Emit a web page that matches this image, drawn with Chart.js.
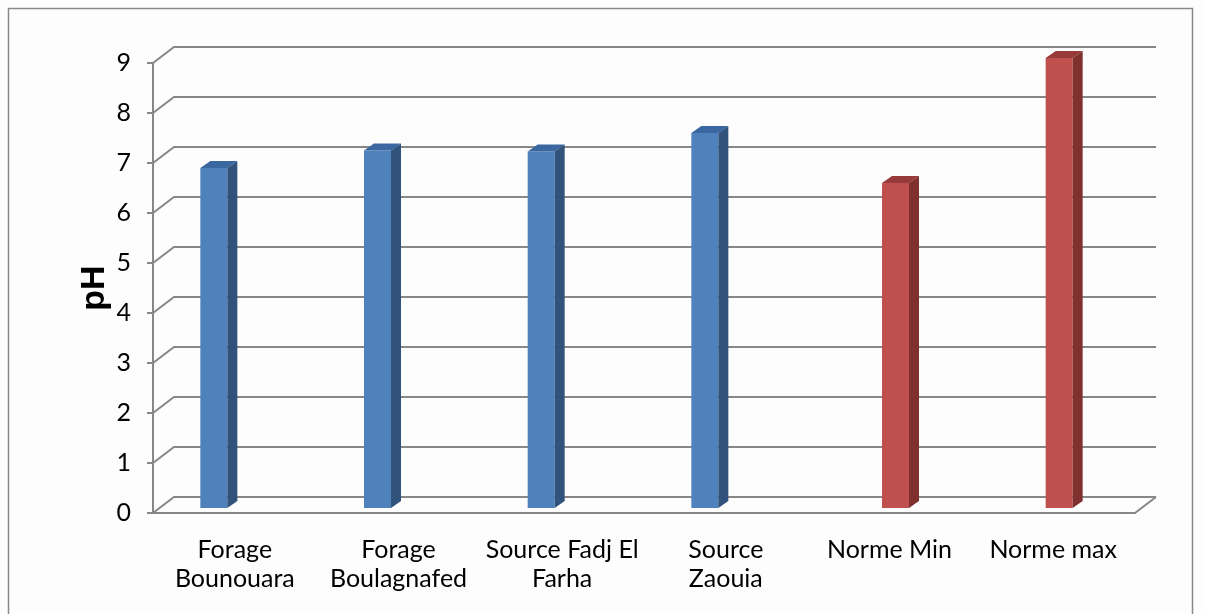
<!DOCTYPE html>
<html>
<head>
<meta charset="utf-8">
<title>pH des eaux</title>
<script src="https://cdn.jsdelivr.net/npm/chart.js@4/dist/chart.umd.min.js"></script>
<style>
  html, body { margin: 0; padding: 0; background: #ffffff; }
  #wrap { width: 1206px; height: 614px; }
</style>
</head>
<body>
<div id="wrap"><canvas id="myCanvas" width="1206" height="614"></canvas></div>
<script>
// categories and pH values
const categories = [
  ['Forage', 'Bounouara'],
  ['Forage', 'Boulagnafed'],
  ['Source Fadj El', 'Farha'],
  ['Source', 'Zaouia'],
  'Norme Min',
  'Norme max'
];
const mesures = [6.8, 7.15, 7.13, 7.5, null, null];  // blue bars
const normes = [null, null, null, null, 6.5, 9];     // red bars
const yTicks = [0, 1, 2, 3, 4, 5, 6, 7, 8, 9];

// 3D look: depth of the wall and of each bar
const wallDx = 21, wallDy = -16;
const barDx = 10, barDy = -7;
const barShiftX = -7.5, barShiftY = -5;
const gridColor = '#878787';

// faces of the 3D bars: [front, top, side]
const faceColors = [
  ['#4f81bd', '#3b67a0', '#31527b'],
  ['#c0504d', '#963b39', '#7f3130']
];

// back wall, floor and front axis
const wallPlugin = {
  id: 'wall',
  beforeDraw(chart) {
    const ctx = chart.ctx;
    const y = chart.scales.y;
    const area = chart.chartArea;
    ctx.save();
    ctx.fillStyle = '#fdfdfd';
    ctx.fillRect(0, 0, chart.width, chart.height);
    ctx.strokeStyle = '#8a8a8a';
    ctx.lineWidth = 1.5;
    ctx.strokeRect(8.5, 8.5, 1184, 640);

    ctx.strokeStyle = gridColor;
    ctx.lineWidth = 2;
    ctx.beginPath();
    yTicks.forEach(function (v) {
      const py = y.getPixelForValue(v);
      // diagonal from the front axis to the back wall
      ctx.moveTo(area.left, py);
      ctx.lineTo(area.left + wallDx, py + wallDy);
      // back wall line
      ctx.lineTo(area.right + wallDx, py + wallDy);
      // small tick on the front axis
      ctx.moveTo(area.left - 6, py);
      ctx.lineTo(area.left, py);
    });
    // front axis
    ctx.moveTo(area.left, y.getPixelForValue(9));
    ctx.lineTo(area.left, y.getPixelForValue(0));
    // floor front edge and right edge
    const p0 = y.getPixelForValue(0);
    ctx.moveTo(area.left, p0);
    ctx.lineTo(area.right, p0);
    ctx.lineTo(area.right + wallDx, p0 + wallDy);
    ctx.stroke();
    ctx.restore();
  },
  beforeDatasetsDraw(chart) {
    chart.ctx.save();
    chart.ctx.translate(barShiftX, barShiftY);
  },
  afterDatasetsDraw(chart) {
    const ctx = chart.ctx;
    chart.data.datasets.forEach(function (ds, di) {
      const meta = chart.getDatasetMeta(di);
      meta.data.forEach(function (bar, i) {
        if (ds.data[i] == null) return;
        const x1 = bar.x - bar.width / 2, x2 = bar.x + bar.width / 2;
        const top = bar.y, base = bar.base;
        // top face
        ctx.fillStyle = faceColors[di][1];
        ctx.beginPath();
        ctx.moveTo(x1, top);
        ctx.lineTo(x1 + barDx, top + barDy);
        ctx.lineTo(x2 + barDx, top + barDy);
        ctx.lineTo(x2, top);
        ctx.closePath();
        ctx.fill();
        // side face
        ctx.fillStyle = faceColors[di][2];
        ctx.beginPath();
        ctx.moveTo(x2, top);
        ctx.lineTo(x2 + barDx, top + barDy);
        ctx.lineTo(x2 + barDx, base + barDy);
        ctx.lineTo(x2, base);
        ctx.closePath();
        ctx.fill();
      });
    });
    ctx.restore();
  }
};

const labelFont = { family: 'Lato', size: 25, lineHeight: 1.16 };

var ctx = document.getElementById('myCanvas').getContext('2d');
var myChart = new Chart(ctx, {
  type: 'bar',
  data: {
    labels: categories,
    datasets: [{
      label: 'pH',
      data: mesures,
      backgroundColor: faceColors[0][0],
      borderWidth: 0,
      categoryPercentage: 0.33,
      barPercentage: 1
    }, {
      label: 'Norme',
      data: normes,
      backgroundColor: faceColors[1][0],
      borderWidth: 0,
      categoryPercentage: 0.33,
      barPercentage: 1
    }]
  },
  options: {
    responsive: false,
    animation: false,
    devicePixelRatio: 1,
    layout: { padding: { left: 8, top: 63, right: 71, bottom: 0 } },
    plugins: {
      legend: { display: false },
      tooltip: { enabled: false }
    },
    scales: {
      x: {
        grid: { display: false, drawTicks: false },
        border: { display: false },
        ticks: {
          color: '#000000',
          font: labelFont,
          padding: 22,
          maxRotation: 0,
          autoSkip: false
        },
        afterFit: function (scale) { scale.height = 101; }
      },
      y: {
        min: 0,
        max: 9,
        grid: { display: false, drawTicks: false },
        border: { display: false },
        ticks: {
          stepSize: 1,
          color: '#000000',
          font: labelFont,
          padding: 22
        },
        title: {
          display: true,
          text: 'pH',
          color: '#000000',
          font: { family: 'Liberation Sans', size: 34, weight: 'bold' },
          padding: { top: 66, bottom: 0 }
        },
        afterFit: function (scale) { scale.width = 145; }
      }
    }
  },
  plugins: [wallPlugin]
});
</script>
</body>
</html>
